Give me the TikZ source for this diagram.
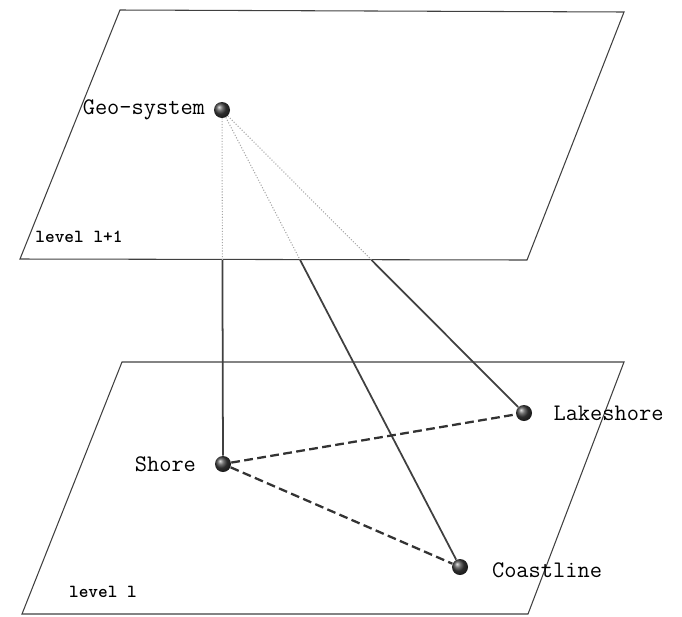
\documentclass[tikz,border=0pt]{standalone}
\usetikzlibrary{calc,positioning}

\begin{document}
\begin{tikzpicture}[x=0.02cm,y=-0.02cm,font=\ttfamily\fontsize{13.5}{16}\selectfont,
  plane/.style={draw=black!75,line width=0.6pt},
  ball/.style={circle,inner sep=0pt,minimum size=0.32cm,shading=ball,ball color=black!75},
  levelname/.style={font=\ttfamily\bfseries\fontsize{10.5}{12}\selectfont},
  hidden/.style={black!35,densely dotted,line width=0.6pt},
  link/.style={black!75,line width=1pt},
  peer/.style={black!80,line width=1.3pt,dash pattern=on 5pt off 2.5pt}]
  \useasboundingbox (0,0) rectangle (682,616);
  % level l+1
  \draw[plane] (120,10)--(624,12)--(527,260)--(20,259)--cycle;
  \node[levelname] (upper) at (79,237) {level l+1};
  \node[ball] (geo) at (222,110) {};
  \node[left=0.05cm of geo] (geolabel) {Geo-system};
  % level l
  \draw[plane] (122,362)--(624,362)--(528,614)--(22,614)--cycle;
  \node[levelname] (lower) at (103,592) {level l};
  \node[ball] (shore) at (223,464) {};
  \node[ball] (lake) at (524,413) {};
  \node[ball] (coast) at (460,567) {};
  \node[left=0.25cm of shore] (shorelabel) {Shore};
  \node[right=0.3cm of lake] (lakelabel) {Lakeshore};
  \node[right=0.35cm of coast,yshift=-2pt] (coastlabel) {Coastline};
  % where the links leave the upper plane
  \coordinate (geo-shore) at ($(geo)!0.424!(shore)$);
  \coordinate (geo-coast) at ($(geo)!0.328!(coast)$);
  \coordinate (geo-lake) at ($(geo)!0.495!(lake)$);
  \draw[hidden] (geo)--(geo-shore);
  \draw[hidden] (geo)--(geo-coast);
  \draw[hidden] (geo)--(geo-lake);
  \draw[link] (geo-shore)--(shore);
  \draw[link] (geo-coast)--(coast);
  \draw[link] (geo-lake)--(lake);
  \draw[peer] (shore)--(lake);
  \draw[peer] (shore)--(coast);
\end{tikzpicture}
\end{document}
